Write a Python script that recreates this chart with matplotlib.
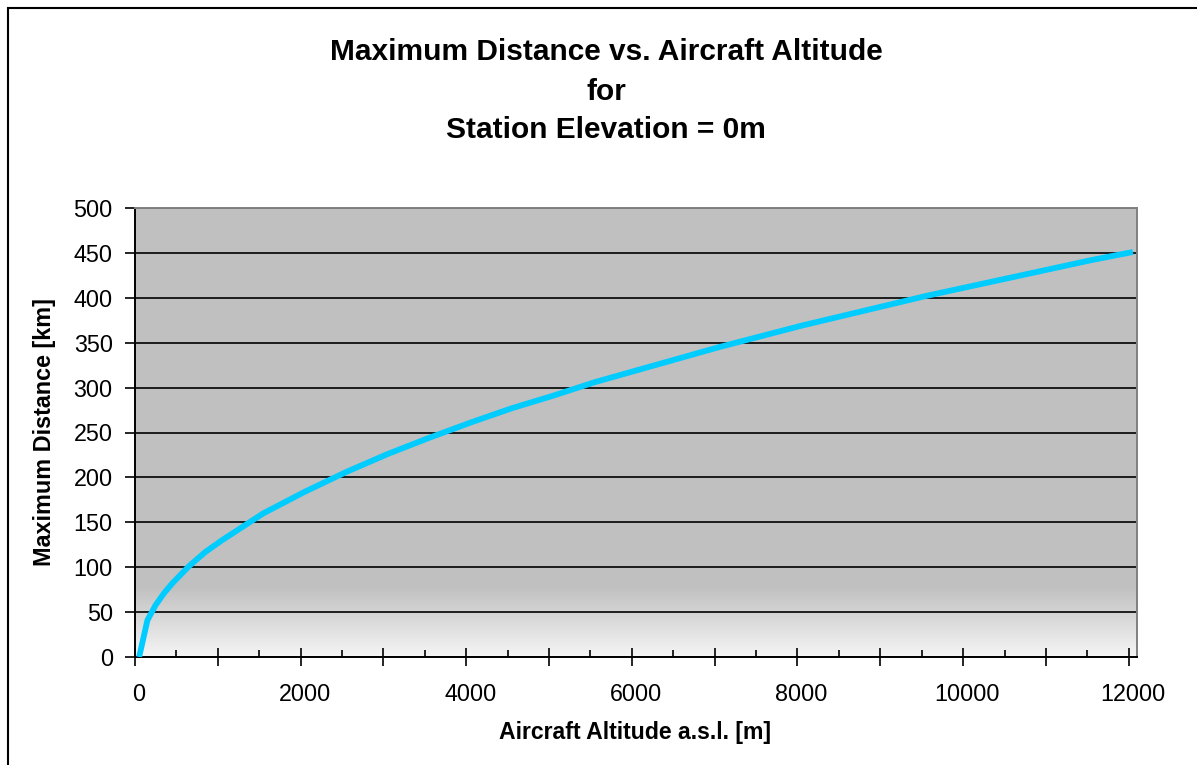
import numpy as np
import matplotlib.pyplot as plt
from matplotlib.patches import Rectangle
from matplotlib.colors import LinearSegmentedColormap

plt.rcParams['font.family'] = ['Liberation Sans', 'DejaVu Sans']

# aircraft altitude [m] and max distance [km]
altitude = [0, 100, 200, 300, 400, 600, 800, 1000, 1250, 1500, 1750, 2000,
            2500, 3000, 3500, 4000, 4500, 5000, 5500, 6000, 6500, 7000,
            7500, 8000, 8500, 9000, 9500, 10000, 10500, 11000, 11500, 12000]
distance = [0, 41, 58, 71, 82, 101, 117, 130, 145, 160, 172, 184,
            206, 226, 244, 261, 277, 291, 306, 319, 332, 345,
            357, 369, 380, 391, 402, 412, 422, 432, 442, 451]

x_labels = [0, 2000, 4000, 6000, 8000, 10000, 12000]
y_ticks = list(range(0, 501, 50))

W, H = 1197, 765
fig = plt.figure(figsize=(W / 100, H / 100), dpi=100)
ax = fig.add_axes([135 / W, 1 - 657 / H, (1137 - 135) / W, (657 - 208) / H])

ax.set_facecolor('#C0C0C0')
# light fade near the bottom of the plot area
cmap = LinearSegmentedColormap.from_list('fade', ['#F5F5F5', '#C0C0C0'])
grad = np.linspace(0, 1, 100).reshape(-1, 1)
ax.imshow(grad, extent=[-50, 12050, 0, 78], origin='lower', aspect='auto',
          cmap=cmap, zorder=0)

ax.plot(altitude, distance, color='#00CCFF', lw=4.2, solid_capstyle='butt',
        zorder=3)

ax.set_xlim(-50, 12050)
ax.set_ylim(0, 500)
ax.set_axisbelow(True)
ax.set_yticks(y_ticks)
ax.yaxis.grid(True, color='black', lw=1.2)
ax.tick_params(axis='y', direction='out', length=7, width=1.2,
               labelsize=16.8, pad=9)

# tick marks on the category boundaries, labels on the categories
ax.set_xticks(np.arange(-50, 12000, 1000))
ax.set_xticks(np.arange(450, 12000, 1000), minor=True)
ax.tick_params(axis='x', which='major', direction='inout', length=13,
               width=1.2, labelbottom=False)
ax.tick_params(axis='x', which='minor', direction='in', length=5, width=1.2)
sec = ax.secondary_xaxis('bottom')
sec.set_xticks(x_labels)
sec.tick_params(length=0, labelsize=16.8, pad=19)
sec.spines['bottom'].set_visible(False)

for s in ['left', 'bottom']:
    ax.spines[s].set_color('black')
    ax.spines[s].set_linewidth(1.4)
for s in ['top', 'right']:
    ax.spines[s].set_color('#808080')
    ax.spines[s].set_linewidth(1.4)

title_kw = dict(ha='center', va='center', fontsize=21.5, fontweight='bold')
fig.text(606 / W, 1 - 52 / H, 'Maximum Distance vs. Aircraft Altitude',
         **title_kw)
fig.text(606 / W, 1 - 92 / H, 'for', **title_kw)
fig.text(606 / W, 1 - 130 / H, 'Station Elevation = 0m', **title_kw)

fig.text(635 / W, 1 - 733 / H, 'Aircraft Altitude a.s.l. [m]', ha='center',
         va='center', fontsize=16.6, fontweight='bold')
fig.text(45 / W, 1 - 432 / H, 'Maximum Distance [km]', ha='center',
         va='center', rotation=90, fontsize=16.8, fontweight='bold')

fig.patches.append(Rectangle((8 / W, -0.1), 1.2, 1.1 - 8 / H, fill=False,
                             edgecolor='black', lw=1.5,
                             transform=fig.transFigure, figure=fig))

fig.savefig('out.png', dpi=100)
